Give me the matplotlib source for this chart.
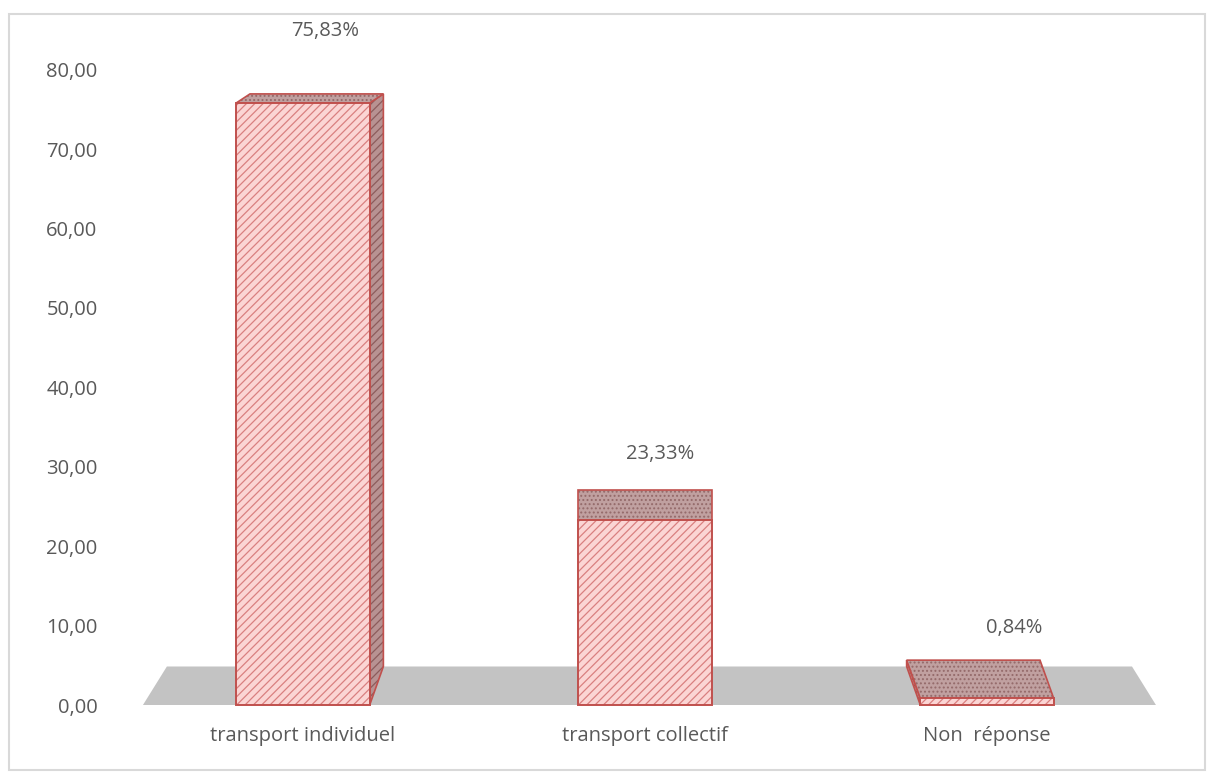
import matplotlib.pyplot as plt
from matplotlib.patches import Polygon, Rectangle
import numpy as np

categories = ["transport individuel", "transport collectif", "Non  réponse"]
values = [75.83, 23.33, 0.84]
value_labels = ["75,83%", "23,33%", "0,84%"]
y_ticks = [0, 10, 20, 30, 40, 50, 60, 70, 80]

plt.rcParams["font.family"] = ["Open Sans", "DejaVu Sans"]
plt.rcParams["hatch.linewidth"] = 0.9

txt_col = "#595959"
edge_col = "#c0504d"
front_face = "#fbd5d4"
front_hatch = "#d98080"
side_face = "#b89292"
side_hatch = "#8c5c5c"
top_face = "#c0a0a0"
top_hatch = "#946a6a"

W, H = 1211, 776
fig = plt.figure(figsize=(W / 100, H / 100), dpi=100)

# outer light frame
fig.patches.append(Rectangle((9 / W, 6 / H), 1196 / W, 756 / H, transform=fig.transFigure,
                             fill=False, edgecolor="#d9d9d9", linewidth=1.5))

# axes placement (pixels -> figure fraction)
px_per_unit = 7.94
y0_px = 705
top_val, bot_val = 84.0, -2.14
ax_top = y0_px - top_val * px_per_unit
ax_bot = y0_px - bot_val * px_per_unit
ax_left, ax_right = 110, 1190
ax = fig.add_axes([ax_left / W, 1 - ax_bot / H, (ax_right - ax_left) / W, (ax_bot - ax_top) / H])

unit_px = 342
c0_px = 303
ax.set_xlim((ax_left - c0_px) / unit_px, (ax_right - c0_px) / unit_px)
ax.set_ylim(bot_val, top_val)

# gray floor
floor_depth = 4.85
floor = Polygon([(-0.468, 0), (2.494, 0), (2.424, floor_depth), (-0.398, floor_depth)],
                closed=True, facecolor="#c3c3c3", edgecolor="none", zorder=1)
ax.add_patch(floor)

w = 0.39
for i, v in enumerate(values):
    x0, x1 = i - w / 2, i + w / 2
    d = floor_depth - 0.049 * v
    dx = -0.04 * (i - 1)
    # side face
    if dx > 0:
        side = [(x1, 0), (x1, v), (x1 + dx, v + d), (x1 + dx, floor_depth)]
    else:
        side = [(x0, 0), (x0, v), (x0 + dx, v + d), (x0 + dx, floor_depth)]
    if dx != 0:
        ax.add_patch(Polygon(side, closed=True, facecolor=side_face, edgecolor=side_hatch,
                             hatch="////", linewidth=0, zorder=2))
        ax.add_patch(Polygon(side, closed=True, fill=False, edgecolor=edge_col,
                             linewidth=1.2, zorder=2.1))
    # top face
    top = [(x0, v), (x1, v), (x1 + dx, v + d), (x0 + dx, v + d)]
    ax.add_patch(Polygon(top, closed=True, facecolor=top_face, edgecolor=top_hatch,
                         hatch="....", linewidth=0, zorder=3))
    ax.add_patch(Polygon(top, closed=True, fill=False, edgecolor=edge_col,
                         linewidth=1.2, zorder=3.1))
    # front face
    ax.bar(i, v, width=w, color=front_face, edgecolor=front_hatch, hatch="////",
           linewidth=0, zorder=4)
    ax.bar(i, v, width=w, fill=False, edgecolor=edge_col, linewidth=1.4, zorder=4.1)

# value labels (offsets in pixels)
label_off = [(8, 63), (15, 36), (41, 32)]
for i, v in enumerate(values):
    d = floor_depth - 0.049 * v
    dx = -0.04 * (i - 1)
    ax.annotate(value_labels[i], (i + dx, v + d),
                xytext=(label_off[i][0] * 0.72, label_off[i][1] * 0.72),
                textcoords="offset points", ha="center", va="center",
                fontsize=14.5, color=txt_col, zorder=6)

ax.set_yticks(y_ticks)
ax.set_yticklabels([f"{t:.2f}".replace(".", ",") for t in y_ticks])
ax.set_xticks(range(len(categories)))
ax.set_xticklabels(categories)
ax.tick_params(axis="both", length=0, labelsize=14.5, colors=txt_col)
ax.tick_params(axis="y", pad=9)
ax.tick_params(axis="x", pad=3)
for s in ax.spines.values():
    s.set_visible(False)
ax.patch.set_visible(False)

fig.savefig("out.png", dpi=100)
